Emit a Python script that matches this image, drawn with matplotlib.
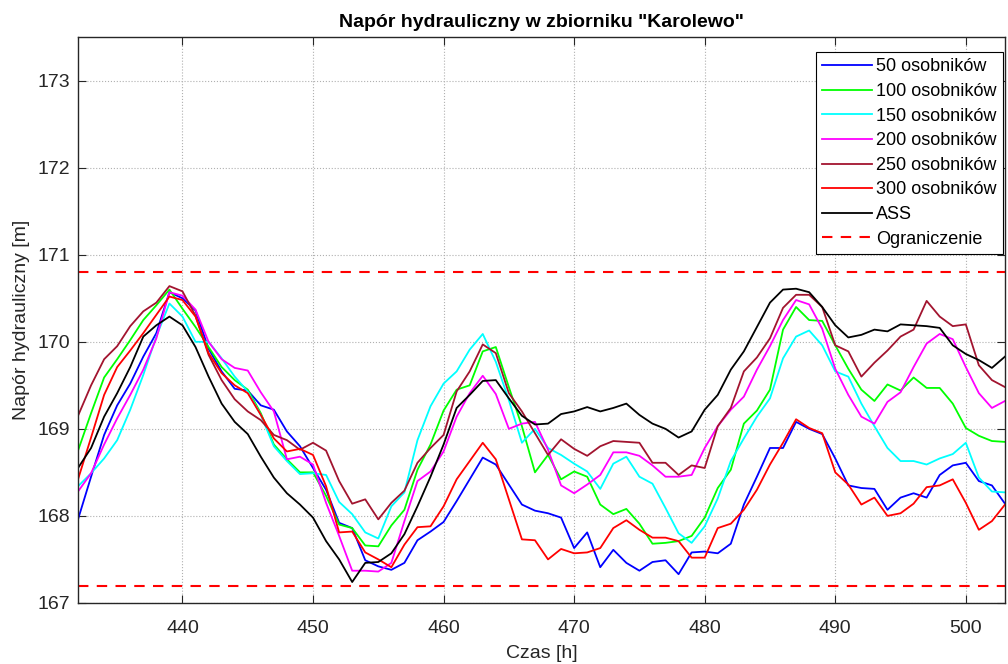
import numpy as np
import matplotlib
matplotlib.use("Agg")
import matplotlib.pyplot as plt

plt.rcParams['font.family'] = ['Liberation Sans', 'DejaVu Sans']

hours = np.arange(432, 504)

s50 = [167.96, 168.45, 168.93, 169.27, 169.52, 169.83, 170.10, 170.57, 170.50, 170.36,
       169.92, 169.66, 169.46, 169.44, 169.27, 169.22, 168.97, 168.80, 168.55, 168.30,
       167.92, 167.86, 167.49, 167.42, 167.38, 167.46, 167.72, 167.82, 167.93, 168.17,
       168.42, 168.67, 168.59, 168.36, 168.13, 168.06, 168.03, 167.98, 167.63, 167.81,
       167.41, 167.61, 167.46, 167.37, 167.47, 167.49, 167.33, 167.58, 167.59, 167.57,
       167.68, 168.13, 168.45, 168.78, 168.78, 169.08, 169.00, 168.94, 168.66, 168.35,
       168.32, 168.31, 168.07, 168.21, 168.26, 168.21, 168.47, 168.58, 168.61, 168.40,
       168.35, 168.14]
s100 = [168.75, 169.18, 169.59, 169.80, 170.02, 170.25, 170.42, 170.60, 170.38, 170.17,
        169.94, 169.71, 169.56, 169.45, 169.18, 168.82, 168.65, 168.50, 168.50, 168.23,
        167.90, 167.86, 167.66, 167.65, 167.89, 168.07, 168.53, 168.82, 169.21, 169.45,
        169.50, 169.89, 169.94, 169.48, 169.03, 168.50, 168.70, 168.42, 168.51, 168.45,
        168.13, 168.02, 168.08, 167.91, 167.68, 167.69, 167.71, 167.77, 167.98, 168.32,
        168.53, 169.06, 169.21, 169.45, 170.14, 170.40, 170.25, 170.24, 169.96, 169.69,
        169.45, 169.32, 169.51, 169.44, 169.59, 169.47, 169.47, 169.29, 169.01, 168.92,
        168.86, 168.85]
s150 = [168.34, 168.49, 168.66, 168.87, 169.22, 169.62, 170.06, 170.44, 170.29, 170.00,
        170.00, 169.81, 169.60, 169.43, 169.16, 168.80, 168.63, 168.48, 168.49, 168.47,
        168.16, 168.02, 167.81, 167.74, 168.11, 168.27, 168.87, 169.26, 169.52, 169.66,
        169.91, 170.09, 169.77, 169.33, 168.84, 169.00, 168.78, 168.70, 168.60, 168.51,
        168.31, 168.60, 168.68, 168.45, 168.37, 168.09, 167.80, 167.69, 167.88, 168.20,
        168.63, 168.89, 169.14, 169.35, 169.81, 170.06, 170.13, 169.96, 169.66, 169.60,
        169.29, 169.03, 168.78, 168.63, 168.63, 168.59, 168.66, 168.71, 168.84, 168.44,
        168.28, 168.27]
s200 = [168.28, 168.49, 168.82, 169.12, 169.39, 169.68, 170.04, 170.57, 170.53, 170.37,
        170.00, 169.80, 169.70, 169.67, 169.42, 169.20, 168.65, 168.68, 168.59, 168.15,
        167.77, 167.37, 167.37, 167.36, 167.46, 167.94, 168.40, 168.51, 168.74, 169.14,
        169.41, 169.61, 169.40, 169.00, 169.06, 169.08, 168.76, 168.35, 168.26, 168.36,
        168.47, 168.73, 168.73, 168.69, 168.58, 168.45, 168.45, 168.47, 168.78, 169.03,
        169.22, 169.37, 169.68, 169.95, 170.25, 170.48, 170.43, 170.15, 169.69, 169.39,
        169.14, 169.06, 169.31, 169.42, 169.71, 169.98, 170.09, 170.03, 169.71, 169.41,
        169.24, 169.32]
s250 = [169.15, 169.50, 169.80, 169.95, 170.18, 170.35, 170.45, 170.64, 170.58, 170.30,
        169.85, 169.56, 169.34, 169.20, 169.10, 168.93, 168.87, 168.76, 168.84, 168.75,
        168.40, 168.14, 168.19, 167.96, 168.15, 168.29, 168.61, 168.78, 168.93, 169.43,
        169.66, 169.97, 169.87, 169.41, 169.20, 168.95, 168.70, 168.88, 168.77, 168.69,
        168.80, 168.86, 168.85, 168.84, 168.61, 168.61, 168.47, 168.58, 168.55, 169.03,
        169.24, 169.66, 169.82, 170.04, 170.39, 170.54, 170.54, 170.40, 169.96, 169.89,
        169.60, 169.76, 169.90, 170.06, 170.14, 170.47, 170.29, 170.18, 170.20, 169.73,
        169.56, 169.48]
s300 = [168.42, 168.90, 169.39, 169.71, 169.90, 170.10, 170.31, 170.52, 170.48, 170.29,
        169.87, 169.64, 169.50, 169.41, 169.16, 168.89, 168.74, 168.77, 168.70, 168.34,
        167.81, 167.82, 167.58, 167.50, 167.41, 167.67, 167.87, 167.88, 168.11, 168.42,
        168.63, 168.84, 168.65, 168.19, 167.73, 167.72, 167.50, 167.62, 167.57, 167.58,
        167.63, 167.86, 167.95, 167.84, 167.75, 167.75, 167.71, 167.52, 167.52, 167.86,
        167.91, 168.07, 168.30, 168.59, 168.84, 169.11, 169.01, 168.95, 168.50, 168.36,
        168.13, 168.21, 168.00, 168.03, 168.14, 168.33, 168.35, 168.42, 168.15, 167.84,
        167.94, 168.13]
ass = [168.55, 168.78, 169.14, 169.41, 169.71, 170.06, 170.19, 170.29, 170.19, 169.94,
       169.60, 169.29, 169.08, 168.94, 168.68, 168.44, 168.26, 168.13, 167.98, 167.71,
       167.50, 167.24, 167.46, 167.47, 167.57, 167.79, 168.11, 168.45, 168.82, 169.24,
       169.39, 169.55, 169.56, 169.35, 169.15, 169.05, 169.06, 169.17, 169.20, 169.25,
       169.20, 169.24, 169.29, 169.16, 169.06, 169.00, 168.90, 168.97, 169.22, 169.39,
       169.68, 169.89, 170.17, 170.45, 170.60, 170.61, 170.57, 170.40, 170.19, 170.05,
       170.08, 170.14, 170.12, 170.20, 170.19, 170.18, 170.16, 169.96, 169.86, 169.79,
       169.70, 169.83]

upper_limit = 170.8
lower_limit = 167.2

labels = ['50 osobników', '100 osobników', '150 osobników', '200 osobników',
          '250 osobników', '300 osobników', 'ASS']
series = [s50, s100, s150, s200, s250, s300, ass]
colors = ['#0000ff', '#00ff00', '#00ffff', '#ff00ff', '#a2142f', '#ff0000', '#000000']

txt = '#262626'

fig = plt.figure(figsize=(10.08, 6.64), dpi=100)
ax = fig.add_axes([0.0774, 0.092, 0.9196, 0.852])

for y, c, lab in zip(series, colors, labels):
    ax.plot(hours, y, color=c, lw=1.3, label=lab)

ax.axhline(upper_limit, color='#ff0000', ls=(0, (5, 4)), lw=1.5, label='Ograniczenie')
ax.axhline(lower_limit, color='#ff0000', ls=(0, (5, 4)), lw=1.5)

ax.set_xlim(432, 503)
ax.set_ylim(167, 173.5)
ax.set_xticks(np.arange(440, 501, 10))
ax.set_yticks(np.arange(167, 174, 1))
ax.grid(True, ls=':', color='#b0b0b0', lw=0.8)
ax.tick_params(direction='in', labelsize=14, length=6, top=True, right=True,
               labeltop=False, labelright=False, colors=txt, labelcolor=txt)
ax.tick_params(axis='x', pad=12)
ax.tick_params(axis='y', pad=6)
for sp in ax.spines.values():
    sp.set_linewidth(1.0)
    sp.set_color(txt)

ax.set_title('Napór hydrauliczny w zbiorniku "Karolewo"', fontsize=14, fontweight='bold',
             pad=7)
ax.set_xlabel('Czas [h]', fontsize=14, labelpad=6, color=txt)
ax.set_ylabel('Napór hydrauliczny [m]', fontsize=14, labelpad=5, color=txt)

leg = ax.legend(loc='upper right', bbox_to_anchor=(0.9978, 0.9735), fontsize=13,
                handlelength=2.75, handletextpad=0.25, labelspacing=0.42,
                borderpad=0.35, fancybox=False, framealpha=1,
                edgecolor='black', borderaxespad=0)
leg.get_frame().set_linewidth(0.8)

fig.savefig('out.png', dpi=100)
